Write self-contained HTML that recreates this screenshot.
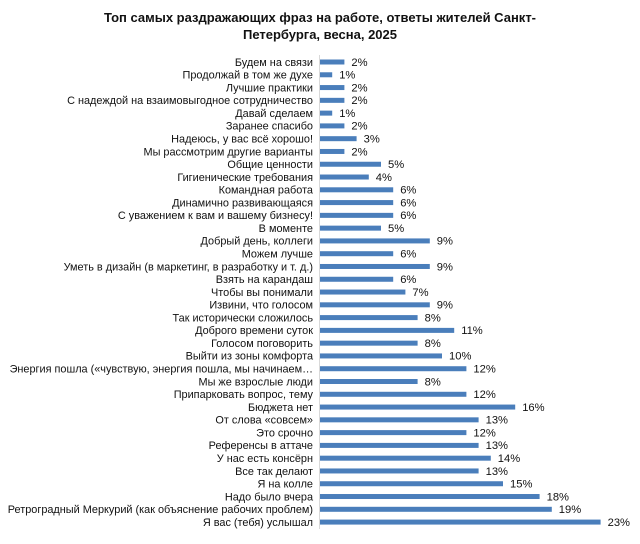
<!DOCTYPE html>
<html><head><meta charset="utf-8"><style>
body{margin:0;background:#fff;width:640px;height:544px;overflow:hidden;font-family:"Liberation Sans",Arial,sans-serif}
.t{position:absolute;left:0;width:640px;top:9px;text-align:center;font-weight:bold;font-size:13px;line-height:17px;color:#111}
</style></head><body>
<div class="t">Топ самых раздражающих фраз на работе, ответы жителей Санкт-<br>Петербурга, весна, 2025</div>
<svg width="640" height="544" style="position:absolute;left:0;top:0" font-family="Liberation Sans, Arial, sans-serif" font-size="10.9">
<line x1="319.5" y1="55" x2="319.5" y2="529" stroke="#d9d9d9"/>
<g id="g"></g>
</svg>
<script>
var d=[["Будем на связи",2],["Продолжай в том же духе",1],["Лучшие практики",2],["С надеждой на взаимовыгодное сотрудничество",2],["Давай сделаем",1],["Заранее спасибо",2],["Надеюсь, у вас всё хорошо!",3],["Мы рассмотрим другие варианты",2],["Общие ценности",5],["Гигиенические требования",4],["Командная работа",6],["Динамично развивающаяся",6],["С уважением к вам и вашему бизнесу!",6],["В моменте",5],["Добрый день, коллеги",9],["Можем лучше",6],["Уметь в дизайн (в маркетинг, в разработку и т. д.)",9],["Взять на карандаш",6],["Чтобы вы понимали",7],["Извини, что голосом",9],["Так исторически сложилось",8],["Доброго времени суток",11],["Голосом поговорить",8],["Выйти из зоны комфорта",10],["Энергия пошла («чувствую, энергия пошла, мы начинаем…",12],["Мы же взрослые люди",8],["Припарковать вопрос, тему",12],["Бюджета нет",16],["От слова «совсем»",13],["Это срочно",12],["Референсы в аттаче",13],["У нас есть консёрн",14],["Все так делают",13],["Я на колле",15],["Надо было вчера",18],["Ретроградный Меркурий (как объяснение рабочих проблем)",19],["Я вас (тебя) услышал",23]];
var s="";
d.forEach(function(r,i){var y=62+i*12.78,w=r[1]*12.2;
s+='<rect x="320" y="'+(y-2.5)+'" width="'+w+'" height="5" fill="#4a7ebb"/>';
s+='<text x="313" y="'+(y+3.8)+'" text-anchor="end" fill="#111">'+r[0]+'</text>';
s+='<text x="'+(320+w+7)+'" y="'+(y+3.8)+'" fill="#111" font-size="11.2">'+r[1]+'%</text>';});
document.getElementById("g").innerHTML=s;
</script>
</body></html>
